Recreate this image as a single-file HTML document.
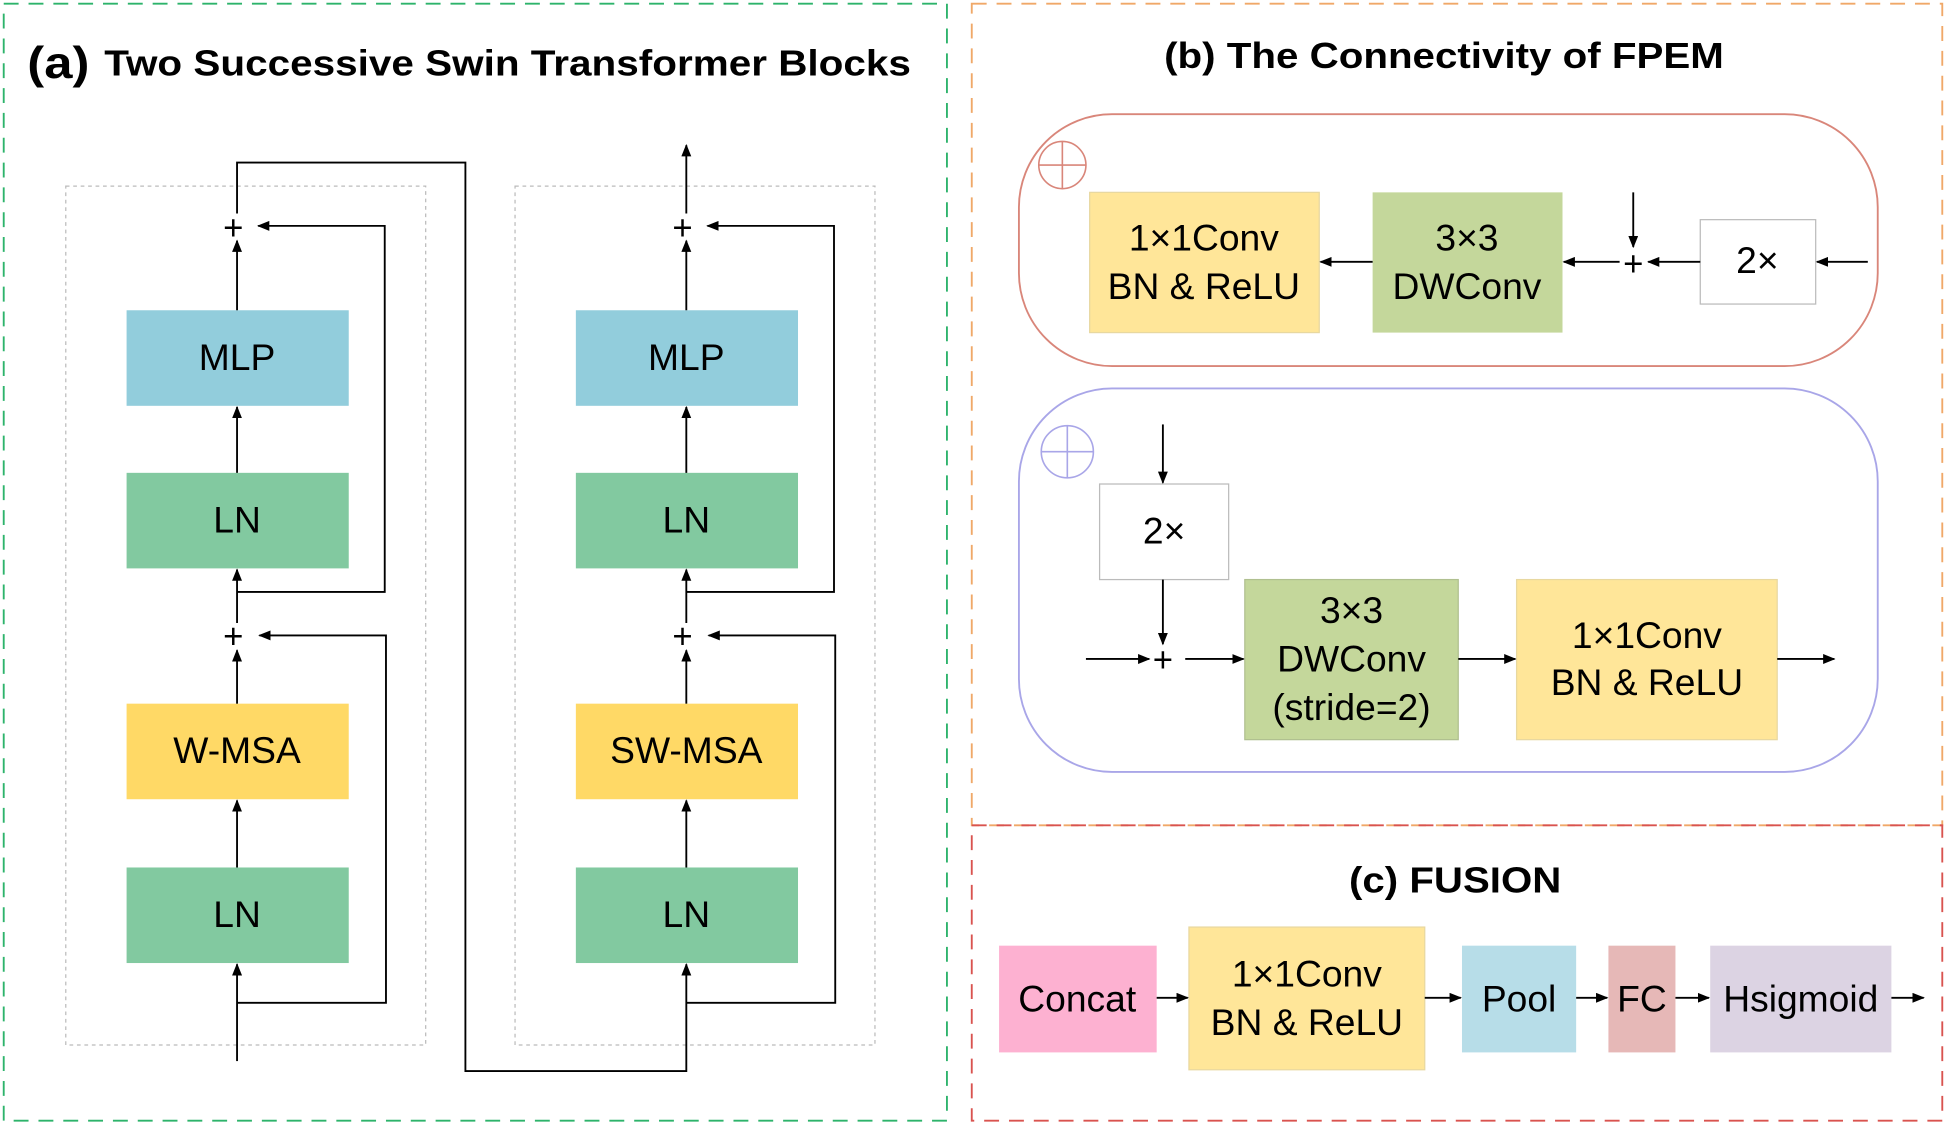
<!DOCTYPE html>
<html><head><meta charset="utf-8"><style>html,body{margin:0;padding:0;background:#fff}svg{display:block}</style></head><body>
<svg width="1946" height="1125" viewBox="0 0 1568 906.5" preserveAspectRatio="none" xmlns="http://www.w3.org/2000/svg" font-family="Liberation Sans, Arial, sans-serif">
<defs><marker id="a" markerWidth="10" markerHeight="8" refX="9" refY="4" orient="auto" markerUnits="userSpaceOnUse"><path d="M0,0L10,4L0,8z" fill="#000"/></marker></defs>
<rect x="3" y="3" width="760" height="900" fill="none" stroke="#2db36b" stroke-width="1.5" stroke-dasharray="12,8"/>
<rect x="783" y="3" width="782" height="662" fill="none" stroke="#f0a868" stroke-width="1.5" stroke-dasharray="12,8"/>
<rect x="783" y="665" width="782" height="238" fill="none" stroke="#d9534f" stroke-width="1.5" stroke-dasharray="12,8"/>
<text x="22" y="63" font-size="36" font-weight="bold" textLength="50" lengthAdjust="spacingAndGlyphs">(a)</text>
<text x="84" y="61" font-size="29" font-weight="bold" textLength="650" lengthAdjust="spacingAndGlyphs">Two Successive Swin Transformer Blocks</text>
<text x="938" y="55" font-size="29" font-weight="bold" textLength="451" lengthAdjust="spacingAndGlyphs">(b) The Connectivity of FPEM</text>
<text x="1087" y="719" font-size="29" font-weight="bold" textLength="171" lengthAdjust="spacingAndGlyphs">(c) FUSION</text>
<g fill="none" stroke="#bbb" stroke-dasharray="3,3" stroke-width="1"><rect x="53" y="150" width="290" height="692"/><rect x="415" y="150" width="290" height="692"/></g>
<g font-size="30" text-anchor="middle">
<rect x="102" y="250" width="179" height="77" fill="#92cddc"/><text x="191" y="298">MLP</text>
<rect x="102" y="381" width="179" height="77" fill="#82c9a0"/><text x="191" y="429">LN</text>
<rect x="102" y="567" width="179" height="77" fill="#ffd966"/><text x="191" y="615">W-MSA</text>
<rect x="102" y="699" width="179" height="77" fill="#82c9a0"/><text x="191" y="747">LN</text>
<rect x="464" y="250" width="179" height="77" fill="#92cddc"/><text x="553" y="298">MLP</text>
<rect x="464" y="381" width="179" height="77" fill="#82c9a0"/><text x="553" y="429">LN</text>
<rect x="464" y="567" width="179" height="77" fill="#ffd966"/><text x="553" y="615">SW-MSA</text>
<rect x="464" y="699" width="179" height="77" fill="#82c9a0"/><text x="553" y="747">LN</text>
<text x="188" y="193" font-size="28">+</text><text x="188" y="522" font-size="28">+</text>
<text x="550" y="193" font-size="28">+</text><text x="550" y="522" font-size="28">+</text>
</g>
<g stroke="#000" stroke-width="1.5" fill="none">
<path d="M191 855V777" marker-end="url(#a)"/><path d="M191 808H311V512H209" marker-end="url(#a)"/>
<path d="M191 699V645" marker-end="url(#a)"/><path d="M191 567V524" marker-end="url(#a)"/>
<path d="M191 502V459" marker-end="url(#a)"/><path d="M191 477H310V182H208" marker-end="url(#a)"/>
<path d="M191 381V328" marker-end="url(#a)"/><path d="M191 250V194" marker-end="url(#a)"/>
<path d="M191 172V131H375V863H553V777" marker-end="url(#a)"/>
<path d="M553 808H673V512H571" marker-end="url(#a)"/>
<path d="M553 699V645" marker-end="url(#a)"/><path d="M553 567V524" marker-end="url(#a)"/>
<path d="M553 502V459" marker-end="url(#a)"/><path d="M553 477H672V182H570" marker-end="url(#a)"/>
<path d="M553 381V328" marker-end="url(#a)"/><path d="M553 250V194" marker-end="url(#a)"/>
<path d="M553 172V117" marker-end="url(#a)"/>
</g>
<rect x="821" y="92" width="692" height="203" rx="75" fill="none" stroke="#d9867a" stroke-width="1.5"/>
<rect x="821" y="313" width="692" height="309" rx="75" fill="none" stroke="#a9a6e8" stroke-width="1.5"/>
<g fill="none" stroke-width="1.3"><circle cx="856" cy="133" r="19" stroke="#d9867a"/><path d="M837 133H875M856 114V152" stroke="#d9867a"/>
<circle cx="860" cy="364" r="21" stroke="#a9a6e8"/><path d="M839 364H881M860 343V385" stroke="#a9a6e8"/></g>
<g font-size="30" text-anchor="middle">
<rect x="878" y="155" width="185" height="113" fill="#ffe699" stroke="#e8d8a0"/><text x="970" y="202">1×1Conv</text><text x="970" y="241">BN &amp; ReLU</text>
<rect x="1106" y="155" width="153" height="113" fill="#c4d79b"/><text x="1182" y="202">3×3</text><text x="1182" y="241">DWConv</text>
<rect x="1370" y="177" width="93" height="68" fill="#fff" stroke="#bbb"/><text x="1416" y="220">2×</text>
<text x="1316" y="222" font-size="28">+</text>
<rect x="886" y="390" width="104" height="77" fill="#fff" stroke="#bbb"/><text x="938" y="438">2×</text>
<text x="937" y="541" font-size="28">+</text>
<rect x="1003" y="467" width="172" height="129" fill="#c4d79b" stroke="#b0c090"/><text x="1089" y="502">3×3</text><text x="1089" y="541">DWConv</text><text x="1089" y="580">(stride=2)</text>
<rect x="1222" y="467" width="210" height="129" fill="#ffe699" stroke="#e8d8a0"/><text x="1327" y="522">1×1Conv</text><text x="1327" y="560">BN &amp; ReLU</text>
<rect x="805" y="762" width="127" height="86" fill="#fdb1d1"/><text x="868" y="815">Concat</text>
<rect x="958" y="747" width="190" height="115" fill="#ffe699" stroke="#e8d8a0"/><text x="1053" y="795">1×1Conv</text><text x="1053" y="834">BN &amp; ReLU</text>
<rect x="1178" y="762" width="92" height="86" fill="#b7dde8"/><text x="1224" y="815">Pool</text>
<rect x="1296" y="762" width="54" height="86" fill="#e6b8b7"/><text x="1323" y="815">FC</text>
<rect x="1378" y="762" width="146" height="86" fill="#dcd3e3"/><text x="1451" y="815">Hsigmoid</text>
</g>
<g stroke="#000" stroke-width="1.5" fill="none">
<path d="M1505 211H1464" marker-end="url(#a)"/><path d="M1370 211H1328" marker-end="url(#a)"/>
<path d="M1316 155V199" marker-end="url(#a)"/><path d="M1305 211H1260" marker-end="url(#a)"/>
<path d="M1106 211H1064" marker-end="url(#a)"/>
<path d="M937 342V389" marker-end="url(#a)"/><path d="M937 467V519" marker-end="url(#a)"/>
<path d="M875 531H926" marker-end="url(#a)"/><path d="M955 531H1002" marker-end="url(#a)"/>
<path d="M1175 531H1221" marker-end="url(#a)"/><path d="M1432 531H1478" marker-end="url(#a)"/>
<path d="M932 804H957" marker-end="url(#a)"/><path d="M1148 804H1177" marker-end="url(#a)"/>
<path d="M1270 804H1295" marker-end="url(#a)"/><path d="M1350 804H1377" marker-end="url(#a)"/>
<path d="M1524 804H1550" marker-end="url(#a)"/>
</g>
</svg>
</body></html>
